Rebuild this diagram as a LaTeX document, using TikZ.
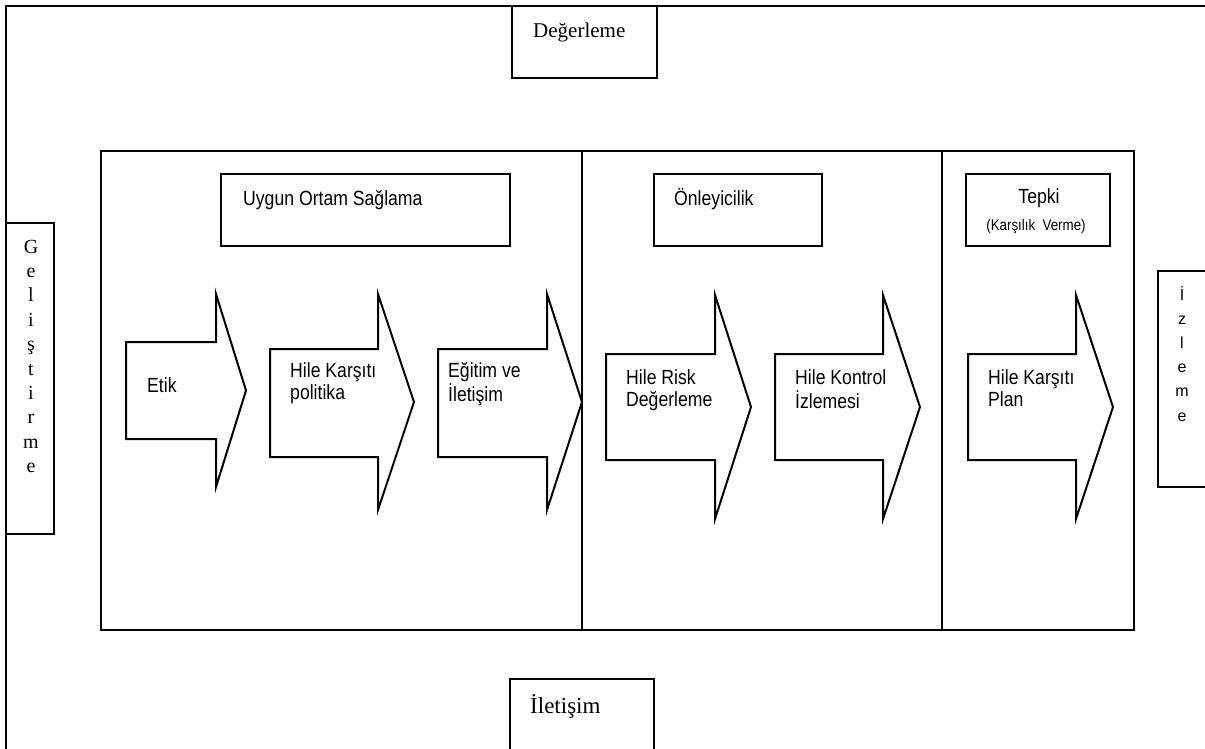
\documentclass[tikz,border=0pt]{standalone}
\usepackage{fontspec}
\setmainfont{Liberation Serif}
\newfontfamily\arialn{Liberation Sans}[FakeStretch=0.86]
\newfontfamily\arial{Liberation Sans}

% block arrow: body left, head x, tip x, body top, body bottom, head top, head bottom
\newcommand\flowarrow[7]{%
  \draw[flow] (#1,#4) -- (#2,#4) -- (#2,#6) -- (#3,{(#6+#7)/2}) -- (#2,#7)
    -- (#2,#5) -- (#1,#5) -- cycle;}
\newcommand\stack[2][l]{\begin{tabular}[t]{@{}#1@{}}#2\end{tabular}}

\tikzset{
  frame/.style={draw=black, line width=2.6pt},
  box/.style={draw=black, line width=2.4pt},
  flow/.style={draw=black, line width=2pt, line join=miter},
  lbl/.style={inner sep=0pt, anchor=base west,
    font=\arialn\fontsize{20.5}{22}\selectfont},
  serif/.style={inner sep=0pt, anchor=base west,
    font=\fontsize{21}{24}\selectfont},
}

\begin{document}
\begin{tikzpicture}[x=1pt, y=-1pt]
\useasboundingbox (0,0) rectangle (1205,749);
\clip (0,0) rectangle (1205,749);

% outer frame, open towards the right and bottom edges
\draw[frame] (6,760) -- (6,6) -- (1215,6);

% boxes on the outer frame
\draw[box] (512,6) rectangle (657,78);
\node[serif] (degerleme) at (533,38) {Değerleme};

\draw[box] (510,679) rectangle (654,760);
\node[serif, font=\fontsize{23}{26}\selectfont] (iletisim) at (530,713) {İletişim};

\draw[box] (6,223) rectangle (54,534);
\node[inner sep=0pt, anchor=base, font=\fontsize{20}{24.4}\selectfont]
  (gelistirme) at (31,253) {\stack[c]{G\\e\\l\\i\\ş\\t\\i\\r\\m\\e}};

\draw[box] (1158,271) rectangle (1215,487);
\node[inner sep=0pt, anchor=base, font=\arial\fontsize{16}{24.2}\selectfont]
  (izleme) at (1182,300) {\stack[c]{İ\\z\\l\\e\\m\\e}};

% inner frame with three sections
\draw[box] (101,151) rectangle (1134,630);
\draw[box] (582,151) -- (582,630);
\draw[box] (942,151) -- (942,630);

% section headings
\draw[box] (221,174) rectangle (510,246);
\node[lbl] (uygun) at (243,205) {Uygun Ortam Sağlama};

\draw[box] (654,174) rectangle (822,246);
\node[lbl] (onleyicilik) at (674,205) {Önleyicilik};

\draw[box] (966,174) rectangle (1110,246);
\node[lbl, anchor=base, font=\arialn\fontsize{20.5}{22}\selectfont] (tepki) at (1039,204) {Tepki};
\node[lbl, anchor=base, font=\arialn\fontsize{15.5}{18}\selectfont] (karsilik) at (1036,230) {(Karşılık\ \ Verme)};

% process arrows
\flowarrow{126}{216}{246}{342}{439}{294}{487}
\node[lbl] (etik) at (147,392) {Etik};

\flowarrow{270}{378}{414}{349}{457}{294}{510}
\node[lbl] (politika) at (290,377) {\stack{Hile Karşıtı\\politika}};

\flowarrow{438}{547}{582}{349}{457}{294}{510}
\node[lbl] (egitim) at (448,377) {\stack{Eğitim ve\\İletişim}};

\flowarrow{606}{715}{751}{354}{460}{295}{519}
\node[lbl] (risk) at (626,384) {\stack{Hile Risk\\Değerleme}};

\flowarrow{775}{883}{920}{354}{460}{295}{519}
\node[lbl] (kontrol) at (795,384) {\stack{Hile Kontrol\\İzlemesi}};

\flowarrow{968}{1076}{1113}{354}{460}{295}{519}
\node[lbl] (plan) at (988,384) {\stack{Hile Karşıtı\\Plan}};
\end{tikzpicture}
\end{document}
